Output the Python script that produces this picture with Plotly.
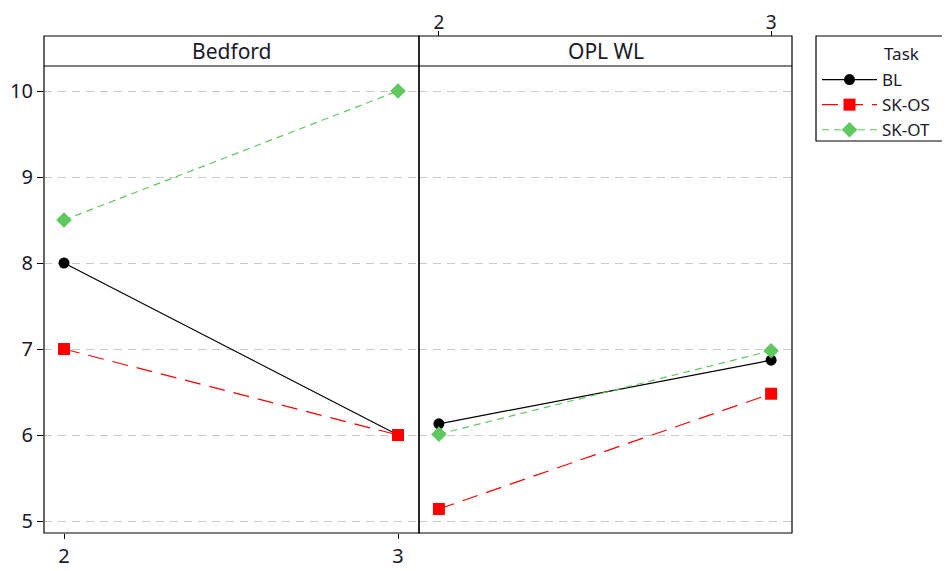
import plotly.graph_objects as go
from plotly.subplots import make_subplots

panels = ["Bedford", "OPL WL"]
x_levels = [2, 3]
tasks = ["BL", "SK-OS", "SK-OT"]
bedford = {"BL": [8.0, 6.0], "SK-OS": [7.0, 6.0], "SK-OT": [8.5, 10.0]}
oplwl = {"BL": [6.13, 6.87], "SK-OS": [5.14, 6.48], "SK-OT": [6.01, 6.98]}
y_ticks = [5, 6, 7, 8, 9, 10]

styles = {
    "BL": dict(color="#000000", dash="solid", symbol="circle", size=11),
    "SK-OS": dict(color="#ff0000", dash="16px,9px", symbol="square", size=12),
    "SK-OT": dict(color="#5fc85f", dash="7px,5px", symbol="diamond", size=12),
}

# page geometry (figure is offset by the 8px body margin)
PX0, PX1, PY0, PY1 = 44, 792, 36, 533
W_PLOT, H_PLOT = PX1 - PX0, PY1 - PY0
def px(x):
    return (x - PX0) / W_PLOT
def py(y):
    return (PY1 - y) / H_PLOT

split = px(419)
ytop = py(66)

fig = make_subplots(rows=1, cols=2, shared_yaxes=True, horizontal_spacing=0)
for col, data in [(1, bedford), (2, oplwl)]:
    for t in tasks:
        s = styles[t]
        fig.add_trace(go.Scatter(
            x=x_levels, y=data[t], name=t, mode="lines+markers",
            line=dict(color=s["color"], dash=s["dash"], width=1.2),
            marker=dict(color=s["color"], symbol=s["symbol"], size=s["size"]),
            showlegend=(col == 1), legendgroup=t,
        ), row=1, col=col)

tickfont = dict(size=20, color="#1a1a2a")
xr = [2 - 20 / 334, 3 + 21 / 334]
fig.update_xaxes(range=xr, tickvals=x_levels, ticks="outside", ticklen=5,
                 tickcolor="black", showgrid=False, zeroline=False, tickfont=tickfont)
fig.update_layout(
    xaxis=dict(domain=[0, split]),
    xaxis2=dict(domain=[split, 1], side="top", anchor="free", position=1.0,
                ticklabelstandoff=-6, tickfont=dict(size=19, color="#1a1a2a")),
    yaxis=dict(domain=[0, ytop], range=[5 - 12 / 86, 10 + 25 / 86], tickvals=y_ticks,
               ticks="outside", ticklen=6, tickcolor="black", showgrid=True,
               gridcolor="#c8c8c8", griddash="8px,6px", gridwidth=1, zeroline=False,
               tickfont=tickfont),
    yaxis2=dict(domain=[0, ytop], showgrid=True, gridcolor="#c8c8c8", griddash="8px,6px",
                zeroline=False, ticks=""),
)

shapes = []
for x0, x1 in [(0, split), (split, 1)]:
    shapes.append(dict(type="rect", xref="paper", yref="paper", x0=x0, x1=x1, y0=0, y1=1,
                       line=dict(color="black", width=1.2), fillcolor="rgba(0,0,0,0)"))
    shapes.append(dict(type="line", xref="paper", yref="paper", x0=x0, x1=x1, y0=ytop, y1=ytop,
                       line=dict(color="black", width=1.2)))
# legend frame
shapes.append(dict(type="rect", xref="paper", yref="paper", x0=px(816), x1=px(944),
                   y0=py(141), y1=py(36), line=dict(color="black", width=1.2),
                   fillcolor="rgba(0,0,0,0)"))

annotations = []
for i, p in enumerate(panels):
    xc = split / 2 if i == 0 else (split + 1) / 2
    annotations.append(dict(text=p, xref="paper", yref="paper", x=xc, y=(1 + ytop) / 2,
                            xanchor="center", yanchor="middle",
                            showarrow=False, font=dict(size=21, color="#1a1a2a")))
annotations.append(dict(text="Task", xref="paper", yref="paper", x=px(882), y=py(53),
                        xanchor="left", yanchor="middle", showarrow=False,
                        font=dict(size=17, color="#1a1a2a")))

fig.update_layout(
    width=942, height=563,
    margin=dict(l=36, r=158, t=28, b=38, autoexpand=False),
    paper_bgcolor="white", plot_bgcolor="white",
    font=dict(family="Noto Sans, DejaVu Sans, sans-serif"),
    shapes=shapes, annotations=annotations,
    legend=dict(x=px(817), y=py(62), xanchor="left", yanchor="top",
                borderwidth=0, bgcolor="rgba(0,0,0,0)",
                font=dict(size=17, color="#1a1a2a"), tracegroupgap=0, itemwidth=55),
)

fig.write_html("out.html")
